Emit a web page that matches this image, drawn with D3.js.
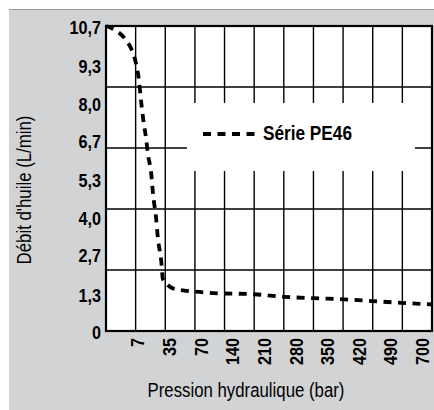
<!DOCTYPE html>
<html><head><meta charset="utf-8">
<script src="https://cdn.jsdelivr.net/npm/d3@7"></script>
<style>body{margin:0;background:#fff} svg{display:block}</style>
</head><body><svg id="c" width="434" height="410"></svg>
<script>
// ---- data ----
const xTickLabels = ["7","35","70","140","210","280","350","420","490","700"];
const yTickLabels = ["0","1,3","2,7","4,0","5,3","6,7","8,0","9,3","10,7"];
const seriesName = "Série PE46";
const xTitle = "Pression hydraulique (bar)";
const yTitle = "Débit d'huile (L/min)";
// curve position along the 11 grid columns, and flow (L/min)
const curveX = [0, 0.30, 0.67, 0.91, 1.01, 1.11, 1.18, 1.25, 1.35, 1.42, 1.52, 1.59, 1.69, 1.75, 1.86, 1.92, 2.02, 2.23, 2.50, 3.00, 3.64, 4.99, 6.01, 7.02, 8.03, 8.98, 9.95, 11.0];
const curveY = [10.70, 10.56, 10.21, 9.75, 9.40, 8.81, 8.10, 7.47, 6.77, 6.17, 5.58, 4.77, 3.96, 3.26, 2.49, 1.82, 1.68, 1.51, 1.44, 1.38, 1.33, 1.29, 1.20, 1.15, 1.11, 1.05, 0.99, 0.93];
const yMax = 10.7, gridCols = 11, gridRows = 5;

// ---- layout ----
const W = 434, H = 410;
const P = {l: 106, t: 26, r: 432, b: 331};
const svg = d3.select("#c");
const font = "'Liberation Sans',Arial,Helvetica,sans-serif";
const NARROW = 0.8;

// panel
svg.append("rect").attr("x", 9).attr("y", 9).attr("width", W - 9).attr("height", H - 9).attr("fill", "#d2d3d5");
svg.append("line").attr("x1", 9).attr("x2", W).attr("y1", 9.5).attr("y2", 9.5).attr("stroke", "#9a9a9a").attr("stroke-width", 1);

const x = d3.scaleLinear().domain([0, gridCols]).range([P.l, P.r]);
const y = d3.scaleLinear().domain([0, yMax]).range([P.b, P.t]);
const xl = d3.scalePoint().domain(xTickLabels).range([P.l + 32, P.r - 9.5]);

// plot background
svg.append("rect").attr("x", P.l).attr("y", P.t).attr("width", P.r - P.l).attr("height", P.b - P.t).attr("fill", "#fff");

// grid
const g = svg.append("g");
g.selectAll(".vg").data(d3.range(1, gridCols)).join("line")
  .attr("x1", d => x(d)).attr("x2", d => x(d)).attr("y1", P.t).attr("y2", P.b)
  .attr("stroke", "#000").attr("stroke-width", 1.4);
g.selectAll(".hg").data(d3.range(1, gridRows).map(k => k * yMax / gridRows)).join("line")
  .attr("x1", P.l).attr("x2", P.r).attr("y1", d => y(d)).attr("y2", d => y(d))
  .attr("stroke", "#000").attr("stroke-width", 1.4);

// legend box (white, covers grid)
svg.append("rect").attr("x", 187).attr("y", 103).attr("width", 228).attr("height", 68).attr("fill", "#fff");

// frame
svg.append("rect").attr("x", P.l).attr("y", P.t).attr("width", P.r - P.l).attr("height", P.b - P.t)
  .attr("fill", "none").attr("stroke", "#000").attr("stroke-width", 2.2);

// curve
const pts = curveX.map((v, i) => [v, curveY[i]]);
svg.append("path").datum(pts)
  .attr("d", d3.line().x(d => x(d[0])).y(d => y(d[1])).curve(d3.curveMonotoneX))
  .attr("fill", "none").attr("stroke", "#000").attr("stroke-width", 3.8).attr("stroke-dasharray", "8,6.5");

// legend
svg.append("line").attr("x1", 203).attr("x2", 256).attr("y1", 134).attr("y2", 134)
  .attr("stroke", "#000").attr("stroke-width", 3.8).attr("stroke-dasharray", "8,6.5");
svg.append("text").attr("transform", `translate(263,140) scale(${NARROW + 0.02},1)`).text(seriesName)
  .attr("font-family", font).attr("font-weight", "bold").attr("font-size", 21).attr("fill", "#000");

// y tick labels
svg.selectAll(".yt").data(yTickLabels).join("text")
  .attr("transform", d => `translate(${P.l - 5},${y(+d.replace(",", "."))}) scale(0.9,1)`)
  .attr("dy", "0.42em")
  .attr("text-anchor", "end").attr("font-family", font).attr("font-weight", "bold").attr("font-size", 18).attr("fill", "#000")
  .text(d => d);

// x tick labels
svg.selectAll(".xt").data(xTickLabels).join("text")
  .attr("transform", d => `translate(${xl(d)},${P.b + 7}) rotate(-90) scale(0.9,1)`)
  .attr("dy", "0.36em").attr("text-anchor", "end")
  .attr("font-family", font).attr("font-weight", "bold").attr("font-size", 18).attr("fill", "#000")
  .text(d => d);

// titles
svg.append("text").attr("transform", `translate(246,397) scale(${NARROW},1)`).attr("text-anchor", "middle")
  .attr("font-family", font).attr("font-size", 21).attr("fill", "#000").text(xTitle);
svg.append("text").attr("transform", `translate(31,190) rotate(-90) scale(${NARROW},1)`).attr("text-anchor", "middle")
  .attr("font-family", font).attr("font-size", 21).attr("fill", "#000").text(yTitle);
</script></body></html>
